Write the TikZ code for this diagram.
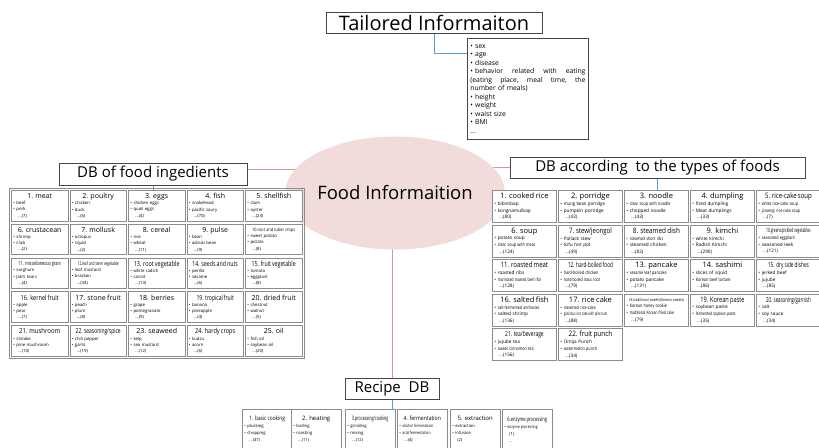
\documentclass[tikz,border=0pt]{standalone}
\usepackage{fontspec}
\setmainfont{Open Sans}
\usepackage{graphicx}
\usepackage{tikz}
\usetikzlibrary{positioning,fit,shapes.geometric,backgrounds}
\definecolor{foodpink}{RGB}{242,220,219}
\definecolor{hubred}{RGB}{217,150,148}
\definecolor{tickblue}{RGB}{91,155,213}
\definecolor{cellgray}{RGB}{140,140,140}
\definecolor{boxgray}{RGB}{70,70,70}
% condensed text, and one table cell: title, two items, count line
\newcommand{\sq}[2][0.7]{\scalebox{#1}[1]{#2}}
\newcommand{\cb}[5][7]{{\fontsize{#1}{#1}\selectfont\hspace*{\fill}#2\hspace*{\fill}\mbox{}}\\ • #3\\ • #4\\ \hspace*{5pt}#5}
\tikzset{
  headbox/.style={rectangle,draw=boxgray,fill=white,line width=0.8pt,inner sep=0pt,font=\fontsize{15}{17}\selectfont},
  listbox/.style={rectangle,draw=boxgray,fill=white,line width=0.8pt,anchor=north west,
    inner xsep=3pt,inner ysep=6pt,text width=115pt,align=left,font=\fontsize{6.8}{8.5}\selectfont},
  foodhub/.style={ellipse,fill=foodpink,minimum width=170pt,minimum height=113pt,inner sep=0pt,
    font=\fontsize{18.5}{20}\selectfont},
  hubline/.style={draw=hubred,line width=1pt},
  tickline/.style={draw=tickblue,line width=0.8pt},
  icell/.style={rectangle,draw=cellgray,line width=0.9pt,fill=white,anchor=north west,
    inner xsep=2pt,inner ysep=1pt,text width=52.5pt,minimum height=30.5pt,align=left,
    font=\fontsize{4.3}{6.2}\selectfont},
  tcell/.style={icell,text width=60pt,minimum height=32pt,font=\fontsize{4.7}{6.7}\selectfont},
  rcell/.style={icell,text width=45.5pt,minimum height=40pt,font=\fontsize{4.2}{7}\selectfont},
  tabframe/.style={rectangle,draw=cellgray,line width=0.8pt,inner sep=1.6pt},
}

\begin{document}
\begin{tikzpicture}[x=1pt,y=-1pt]
\useasboundingbox (0,0) rectangle (819,447);
\clip (0,0) rectangle (819,447);

% --- Tailored information ---
\node[headbox,minimum width=216pt,minimum height=21pt,font=\fontsize{20}{22}\selectfont] (tail) at (434,22.5) {Tailored Informaiton};
\node[listbox] (lst) at (467,38) {• sex\\ • age\\ • disease\\
  • behavior\hfill related\hfill with\hfill eating\\
  (eating\hfill place,\hfill meal\hfill time,\hfill the\\
  number of meals)\\ • height\\ • weight\\ • waist size\\ • BMI\\ ...};
\coordinate (tl) at ([yshift=-15pt]lst.north west);

% --- hub ---
\node[foodhub] (food) at (395,193) {Food Informaition};

% --- DB of food ingredients ---
\node[headbox,minimum width=188pt,minimum height=22pt] (ingr) at (153,174) {DB of food ingedients};
\node[icell] (i1) at (11,190) {\cb{1. meat}{beef}{pork}{...(7)}};
\node[icell] (i2) at (69.5,190) {\cb{2. poultry}{chicken}{duck}{...(6)}};
\node[icell] (i3) at (128,190) {\cb{3. eggs}{chicken eggs}{quail eggs}{...(4)}};
\node[icell] (i4) at (186.5,190) {\cb{4. fish}{snakehead}{pacific saury}{...(70)}};
\node[icell] (i5) at (245,190) {\cb{5. shellfish}{clam}{oyster}{...(23)}};
\node[icell] (i6) at (11,223.8) {\cb{6. crustacean}{shrimp}{crab}{...(2)}};
\node[icell] (i7) at (69.5,223.8) {\cb{7. mollusk}{octopus}{squid}{...(2)}};
\node[icell] (i8) at (128,223.8) {\cb{8. cereal}{rice}{wheat}{...(11)}};
\node[icell] (i9) at (186.5,223.8) {\cb{9. pulse}{bean}{adzuki bean}{...(9)}};
\node[icell] (i10) at (245,223.8) {\cb[4.5]{\sq[0.85]{10.root and tuber crops}}{sweet potato}{potato}{...(8)}};
\node[icell] (i11) at (11,257.6) {\cb[5.5]{\sq[0.7]{11. miscellaneous grain}}{sorghum}{Job's tears}{...(4)}};
\node[icell] (i12) at (69.5,257.6) {\cb[5]{\sq[0.65]{12.leaf and stem vegetable}}{leaf mustard}{bracken}{...(34)}};
\node[icell] (i13) at (128,257.6) {\cb{\sq[0.78]{13. root vegetable}}{white radish}{carrot}{...(13)}};
\node[icell] (i14) at (186.5,257.6) {\cb{\sq[0.75]{14. seeds and nuts}}{perilla}{sesame}{...(6)}};
\node[icell] (i15) at (245,257.6) {\cb{\sq[0.75]{15. fruit vegetable}}{tomato}{eggplant}{...(8)}};
\node[icell] (i16) at (11,291.4) {\cb{\sq[0.8]{16. kernel fruit}}{apple}{pear}{...(7)}};
\node[icell] (i17) at (69.5,291.4) {\cb{17. stone fruit}{peach}{plum}{...(8)}};
\node[icell] (i18) at (128,291.4) {\cb{18. berries}{grape}{pomegranate}{...(9)}};
\node[icell] (i19) at (186.5,291.4) {\cb{\sq[0.72]{19. tropical fruit}}{banana}{pineapple}{...(4)}};
\node[icell] (i20) at (245,291.4) {\cb{20. dried fruit}{chestnut}{walnut}{...(5)}};
\node[icell] (i21) at (11,325.2) {\cb{\sq[0.85]{21. mushroom}}{shitake}{pine mushroom}{...(10)}};
\node[icell] (i22) at (69.5,325.2) {\cb{\sq[0.7]{22. seasoning/spice}}{chili pepper}{garlic}{...(19)}};
\node[icell] (i23) at (128,325.2) {\cb{23. seaweed}{kelp}{sea mustard}{...(12)}};
\node[icell] (i24) at (186.5,325.2) {\cb{\sq[0.8]{24. hardy crops}}{kudzu}{acorn}{...(6)}};
\node[icell] (i25) at (245,325.2) {\cb{25. oil}{fish oil}{soybean oil}{...(20)}};
\node[tabframe,fit=(i1)(i25)] (iframe) {};

% --- DB according to the types of foods ---
\node[headbox,minimum width=295pt,minimum height=21pt] (types) at (657.5,167.5) {DB according\ \ to the types of foods};
\node[tcell] (t1) at (492,190) {\cb[7.5]{1. cooked rice}{bibimbap}{kongnamulbap}{...(80)}};
\node[tcell] (t2) at (558,190) {\cb[7.5]{2. porridge}{\sq[0.9]{mung bean porridge}}{pumpkin porridge}{...(42)}};
\node[tcell] (t3) at (624,190) {\cb[7.5]{3. noodle}{\sq[0.8]{clear soup with noodle}}{chopped noodle}{...(43)}};
\node[tcell] (t4) at (690,190) {\cb[7.5]{4. dumpling}{fried dumpling}{Meat dumplings}{...(33)}};
\node[tcell] (t5) at (756,190) {\cb[7.5]{\sq[0.8]{5. rice-cake soup}}{\sq[0.8]{white rice-cake soup}}{\sq[0.75]{joraengi rice-cake soup}}{...(7)}};
\node[tcell] (t6) at (492,224.5) {\cb[7.5]{6. soup}{potato soup}{\sq[0.8]{clear soup with meat}}{...(124)}};
\node[tcell] (t7) at (558,224.5) {\cb[7.5]{\sq[0.8]{7. stew/jeongol}}{Pollack stew}{tofu hot pot}{...(49)}};
\node[tcell] (t8) at (624,224.5) {\cb[7.5]{\sq[0.85]{8. steamed dish}}{\sq[0.8]{steamed short ribs}}{steamed chicken}{...(82)}};
\node[tcell] (t9) at (690,224.5) {\cb[7.5]{9. kimchi}{white kimchi}{Radish Kimchi}{...(290)}};
\node[tcell] (t10) at (756,224.5) {\cb[6]{\sq[0.55]{10.greens/pickled vegetables}}{\sq[0.8]{seasoned eggplant}}{seasoned leek}{...(121)}};
\node[tcell] (t11) at (492,259) {\cb[7.5]{\sq[0.8]{11. roasted meat}}{roasted ribs}{\sq[0.7]{marinated roasted beef ribs}}{...(128)}};
\node[tcell] (t12) at (558,259) {\cb[7]{\sq[0.68]{12. hard-boiled food}}{\sq[0.8]{hard-boiled chicken}}{\sq[0.75]{hard-boiled lotus root}}{...(79)}};
\node[tcell] (t13) at (624,259) {\cb[7.5]{13. pancake}{\sq[0.8]{sesame leaf pancake}}{potato pancake}{...(131)}};
\node[tcell] (t14) at (690,259) {\cb[7.5]{14. sashimi}{slices of squid}{\sq[0.8]{Korean beef tartare}}{...(86)}};
\node[tcell] (t15) at (756,259) {\cb[7]{\sq[0.68]{15. dry side dishes}}{jerked beef}{jujube}{...(85)}};
\node[tcell] (t16) at (492,293.5) {\cb[7.5]{16. salted fish}{\sq[0.75]{salt-fermented anchovies}}{salted shrimp}{...(136)}};
\node[tcell] (t17) at (558,293.5) {\cb[7.5]{17. rice cake}{\sq[0.8]{steamed rice-cake}}{\sq[0.58]{glutinous rice cake with pine nuts}}{...(88)}};
\node[tcell] (t18) at (624,293.5) {\cb[4]{\sq[0.8]{18.traditional sweets(Korean sweets)}}{\sq[0.8]{Korean honey cookie}}{\sq[0.7]{traditional Korean fried cake}}{...(79)}};
\node[tcell] (t19) at (690,293.5) {\cb[7.5]{\sq[0.75]{19. Korean paste}}{soybean paste}{\sq[0.7]{fermented soybean paste}}{...(35)}};
\node[tcell] (t20) at (756,293.5) {\cb[7]{\sq[0.62]{20. seasoning/garnish}}{salt}{soy sauce}{...(34)}};
\node[tcell] (t21) at (492,328) {\cb[7]{\sq[0.7]{21. tea/beverage}}{jujube tea}{\sq[0.8]{sweet cinnamon tea}}{...(156)}};
\node[tcell] (t22) at (558,328) {\cb[7.5]{\sq[0.85]{22. fruit punch}}{Omija Punch}{\sq[0.8]{watermelon punch}}{...(34)}};

% --- Recipe DB ---
\node[headbox,minimum width=94pt,minimum height=21pt] (recipe) at (392,388.5) {Recipe\ \ DB};
\node[rcell] (r1) at (242,409) {\cb[6]{\sq[0.8]{1. basic cooking}}{plucking}{chopping}{...(47)}};
\node[rcell] (r2) at (291,409) {\cb[6]{2. heating}{boiling}{roasting}{...(11)}};
\node[rcell] (r3) at (345,409) {\cb[6]{\sq[0.62]{3.processing/cooking}}{grinding}{mixing}{...(12)}};
\node[rcell] (r4) at (397,409) {\cb[6]{\sq[0.85]{4. fermentation}}{\sq[0.75]{alcohol fermentation}}{\sq[0.8]{acid fermentation}}{...(4)}};
\node[rcell] (r5) at (450,409) {\cb[6]{5. extraction}{extraction}{infusion}{(2)}};
\node[rcell] (r6) at (502,409) {{\fontsize{6}{6}\selectfont\hspace*{\fill}\sq[0.68]{6.enzyme processing}\hspace*{\fill}\mbox{}}\\ • \sq[0.8]{enzyme processing}\\ \hspace*{5pt}(1)\\ \hspace*{5pt}...};

% --- connectors ---
\begin{scope}[on background layer]
\coordinate (lj) at ([yshift=5pt]ingr.east);
\draw[hubline] (lj) -- (lj -| food.center);
\draw[hubline] (types.west) -- (types.west -| food.center);
\draw[hubline] (recipe.north) -- (recipe.north |- food.center);
\draw[tickline] (tail.south) |- (tl);
\draw[tickline] (ingr.south) -- (ingr.south |- i1.north);
\draw[tickline] (types.south) -- (types.south |- t1.north);
\draw[tickline] (recipe.south) -- (recipe.south |- r1.north);
\end{scope}
\end{tikzpicture}
\end{document}
